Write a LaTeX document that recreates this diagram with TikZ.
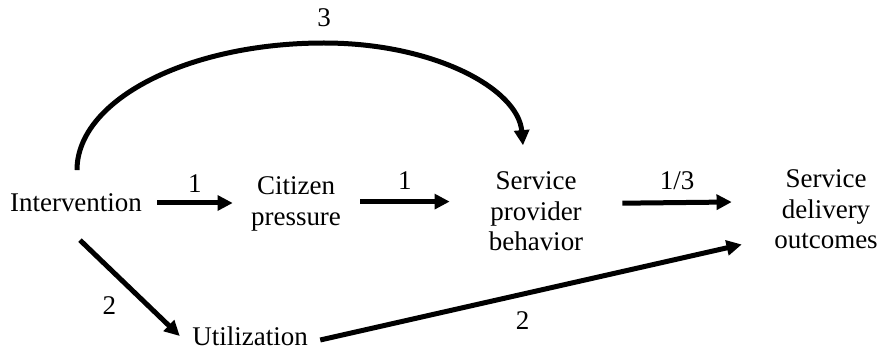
\documentclass[tikz,border=0pt]{standalone}
\usepackage{fontspec}
\setmainfont{Liberation Serif}
\usepackage{tikz}
\usetikzlibrary{arrows.meta,positioning}
\tikzset{box/.style={inner sep=0pt,align=center,font=\fontsize{19.2}{22}\selectfont}}
\tikzset{num/.style={inner sep=0pt,font=\fontsize{19.2}{22}\selectfont}}
\tikzset{flow/.style={->,line width=0.125cm}}

\begin{document}
\begin{tikzpicture}[>={Triangle[length=0.38cm,width=0.37cm]}]
    \useasboundingbox (0,0) rectangle (22.025,8.8);
    \node[box] (int) at (1.9,3.725) {Intervention};
    \node[box] (cit) at (7.4,3.7) {Citizen\\pressure};
    \node[box] (spb) at (13.4,3.52) {Service\\provider\\behavior};
    \node[box] (sdo) at (20.65,3.57) {Service\\delivery\\outcomes};
    \node[box] (util) at (6.25,0.4) {Utilization};
    \coordinate (apex) at (8.1,7.725);

    \draw [flow] ([xshift=0.375cm]int.east) to []node[num,above=0.2cm]{1} ([xshift=-0.45cm]int.east -| cit.west);
    \draw [flow] ([xshift=0.475cm,yshift=0.06cm]cit.east) to []node[num,above=0.25cm]{1} ([xshift=-0.97cm,yshift=0.06cm]cit.east -| spb.west);
    \draw [flow] ([xshift=0.97cm,yshift=0.2cm]spb.east) to []node[num,above=0.25cm]{1/3} ([xshift=-1.056cm,yshift=0.18cm]sdo.west);
    \draw [flow] ([xshift=0.1cm,yshift=-0.695cm]int.south) to []node[num,pos=0.5,below left=0.14cm and 0.28cm]{2} ([xshift=-0.306cm]util.west);
    \draw [flow] ([xshift=0.306cm,yshift=-0.1cm]util.east) to []node[num,pos=0.48,below=0.365cm]{2} ([xshift=-0.806cm,yshift=0.125cm]sdo.south west);
    % direct effect, bowed over the top
    \draw [flow] ([xshift=0.025cm,yshift=0.59cm]int.north) to [out=90,in=180,out distance=1.75cm,in distance=3.41cm] (apex) node[num,above=0.34cm]{3}
        to [out=0,in=95,out distance=2.75cm,in distance=1.42cm] ([xshift=-0.325cm,yshift=0.64cm]spb.north);
\end{tikzpicture}
\end{document}
